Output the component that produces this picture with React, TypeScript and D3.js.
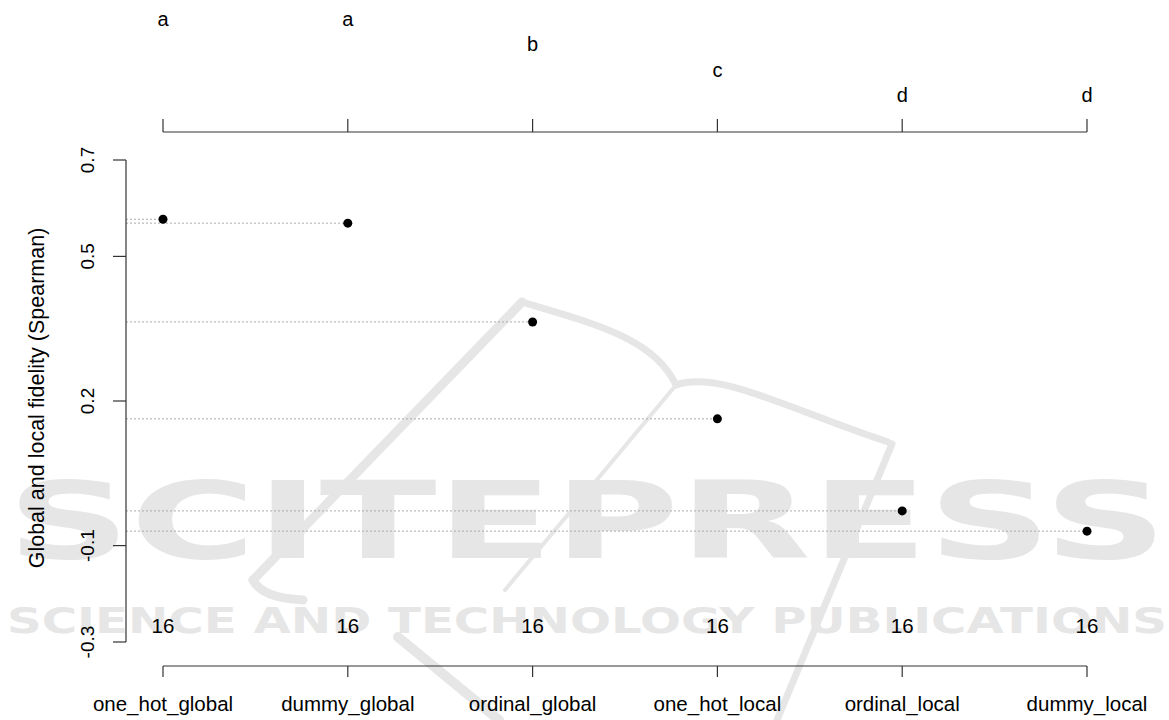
import React, { useEffect, useRef } from "react";
import * as d3 from "d3";

const categories = [
  "one_hot_global",
  "dummy_global",
  "ordinal_global",
  "one_hot_local",
  "ordinal_local",
  "dummy_local",
];
const fidelity = [0.577, 0.569, 0.364, 0.163, -0.028, -0.07];
const groupLetters = ["a", "a", "b", "c", "d", "d"];
const counts = [16, 16, 16, 16, 16, 16];
const yTicks = [-0.3, -0.1, 0.2, 0.5, 0.7];

const W = 1169;
const H = 720;
const FONT = "'Liberation Sans', Arial, sans-serif";

const App = () => {
  const svgRef = useRef<SVGSVGElement | null>(null);

  useEffect(() => {
    document.body.style.margin = "0";
    if (!svgRef.current) return;
    const svg = d3.select(svgRef.current);
    svg.selectAll("*").remove();

    const x = d3.scalePoint<string>().domain(categories).range([163, 1087]);
    const y = d3.scaleLinear().domain([-0.3, 0.7]).range([642, 160]);
    const axisX = 126;
    const axisColor = "#333";

    // publisher watermark (logo strokes + text), drawn underneath
    const wm = svg.append("g").attr("fill", "#e6e6e6");
    const logo = svg
      .append("g")
      .attr("fill", "none")
      .attr("stroke", "#e6e6e6")
      .attr("stroke-linecap", "round");
    logo.append("path").attr("d", "M253,580 L522,302").attr("stroke-width", 9);
    logo.append("path").attr("d", "M253,580 Q262,598 303,600").attr("stroke-width", 9);
    logo.append("path").attr("d", "M522,302 C600,325 655,340 676,385").attr("stroke-width", 7);
    logo.append("path").attr("d", "M676,385 C720,370 790,410 888,442").attr("stroke-width", 7);
    logo.append("path").attr("d", "M892,444 L777,720").attr("stroke-width", 7);
    logo.append("path").attr("d", "M676,385 L505,590").attr("stroke-width", 4);
    logo.append("path").attr("d", "M398,637 L499,720").attr("stroke-width", 10);

    wm.append("text")
      .attr("x", 7)
      .attr("y", 558)
      .attr("textLength", 1160)
      .attr("lengthAdjust", "spacingAndGlyphs")
      .style("font-family", "'DejaVu Sans', sans-serif")
      .style("font-weight", "bold")
      .style("font-size", "107px")
      .text("SCITEPRESS");
    wm.append("text")
      .attr("x", 7)
      .attr("y", 633)
      .attr("textLength", 1160)
      .attr("lengthAdjust", "spacingAndGlyphs")
      .style("font-family", "'DejaVu Sans', sans-serif")
      .style("font-weight", "bold")
      .style("font-size", "35px")
      .text("SCIENCE AND TECHNOLOGY PUBLICATIONS");

    // dotted guides from the axis to each point
    svg
      .append("g")
      .selectAll("line")
      .data(fidelity)
      .enter()
      .append("line")
      .attr("x1", axisX)
      .attr("x2", (_d, i) => x(categories[i])!)
      .attr("y1", (d) => y(d))
      .attr("y2", (d) => y(d))
      .attr("stroke", "#aaa")
      .attr("stroke-width", 1)
      .attr("stroke-dasharray", "2,2");

    svg
      .append("g")
      .selectAll("circle")
      .data(fidelity)
      .enter()
      .append("circle")
      .attr("cx", (_d, i) => x(categories[i])!)
      .attr("cy", (d) => y(d))
      .attr("r", 4.5)
      .attr("fill", "#000");

    // left axis
    const left = svg.append("g").attr("stroke", axisColor).attr("stroke-width", 1.2);
    left.append("line").attr("x1", axisX).attr("x2", axisX).attr("y1", y(0.7)).attr("y2", y(-0.3));
    left
      .selectAll("line.tick")
      .data(yTicks)
      .enter()
      .append("line")
      .attr("class", "tick")
      .attr("x1", axisX)
      .attr("x2", 113)
      .attr("y1", (d) => y(d))
      .attr("y2", (d) => y(d));

    svg
      .append("g")
      .selectAll("text")
      .data(yTicks)
      .enter()
      .append("text")
      .attr("transform", (d) => `translate(94, ${y(d)}) rotate(-90)`)
      .attr("text-anchor", "middle")
      .style("font-family", FONT)
      .style("font-size", "19px")
      .text((d) => String(d));

    svg
      .append("text")
      .attr("transform", `translate(44, ${(y(0.7) + y(-0.3)) / 2 - 3}) rotate(-90)`)
      .attr("text-anchor", "middle")
      .style("font-family", FONT)
      .style("font-size", "21.5px")
      .text("Global and local fidelity (Spearman)");

    // bottom and top axes
    const hAxis = (yy: number, tickEnd: number) => {
      const g = svg.append("g").attr("stroke", axisColor).attr("stroke-width", 1.2);
      g.append("line")
        .attr("x1", x(categories[0])!)
        .attr("x2", x(categories[categories.length - 1])!)
        .attr("y1", yy)
        .attr("y2", yy);
      g.selectAll("line.tick")
        .data(categories)
        .enter()
        .append("line")
        .attr("class", "tick")
        .attr("x1", (d) => x(d)!)
        .attr("x2", (d) => x(d)!)
        .attr("y1", yy)
        .attr("y2", tickEnd);
    };
    hAxis(666, 677);
    hAxis(132, 119);

    svg
      .append("g")
      .selectAll("text")
      .data(categories)
      .enter()
      .append("text")
      .attr("x", (d) => x(d)!)
      .attr("y", 711)
      .attr("text-anchor", "middle")
      .style("font-family", FONT)
      .style("font-size", "20.5px")
      .text((d) => d);

    svg
      .append("g")
      .selectAll("text")
      .data(counts)
      .enter()
      .append("text")
      .attr("x", (_d, i) => x(categories[i])!)
      .attr("y", 633)
      .attr("text-anchor", "middle")
      .style("font-family", FONT)
      .style("font-size", "20.5px")
      .text((d) => String(d));

    const levels = Array.from(new Set(groupLetters));
    svg
      .append("g")
      .selectAll("text")
      .data(groupLetters)
      .enter()
      .append("text")
      .attr("x", (_d, i) => x(categories[i])!)
      .attr("y", (d) => 26 + levels.indexOf(d) * 25.3)
      .attr("text-anchor", "middle")
      .style("font-family", FONT)
      .style("font-size", "20px")
      .text((d) => d);
  }, []);

  return <svg ref={svgRef} width={W} height={H} style={{ display: "block", background: "#fff" }} />;
};

export default App;
